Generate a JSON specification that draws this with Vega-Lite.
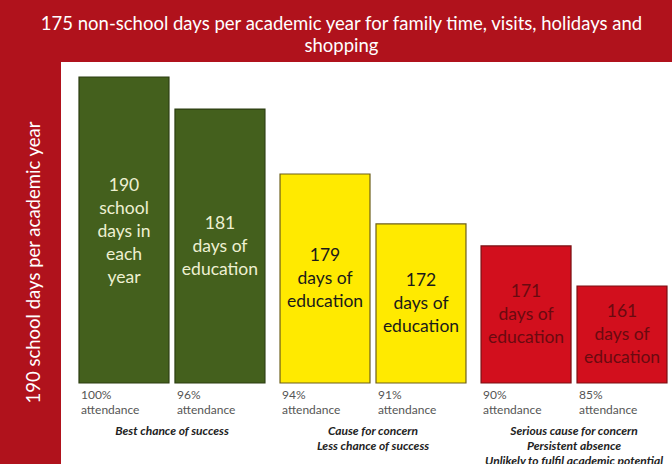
{
  "$schema": "https://vega.github.io/schema/vega-lite/v6.json",
  "width": 611,
  "height": 402,
  "autosize": "none",
  "padding": {"left": 61, "top": 62, "right": 0, "bottom": 0},
  "background": "#b0121c",
  "config": {
    "view": {"fill": "white", "stroke": null},
    "font": "Lato"
  },
  "title": {
    "text": ["175 non-school days per academic year for family time, visits, holidays and", "shopping"],
    "color": "white",
    "fontSize": 18.5,
    "fontWeight": "normal",
    "font": "Lato",
    "anchor": "middle",
    "frame": "group",
    "dx": -25,
    "offset": 7,
    "lineHeight": 22
  },
  "datasets": {
    "bars": [
      {"group": "Best", "bar": "a", "height": 100, "label": "190\nschool\ndays in\neach\nyear", "attend": "100%\nattendance"},
      {"group": "Best", "bar": "b", "height": 89.5, "label": "181\ndays of\neducation", "attend": "96%\nattendance"},
      {"group": "Cause", "bar": "a", "height": 68.3, "label": "179\ndays of\neducation", "attend": "94%\nattendance"},
      {"group": "Cause", "bar": "b", "height": 52.0, "label": "172\ndays of\neducation", "attend": "91%\nattendance"},
      {"group": "Serious", "bar": "a", "height": 44.8, "label": "171\ndays of\neducation", "attend": "90%\nattendance"},
      {"group": "Serious", "bar": "b", "height": 31.7, "label": "161\ndays of\neducation", "attend": "85%\nattendance"}
    ],
    "groups": [
      {"group": "Best", "note": "Best chance of success"},
      {"group": "Cause", "note": "Cause for concern\nLess chance of success"},
      {"group": "Serious", "note": "Serious cause for concern\nPersistent absence\nUnlikely to fulfil academic potential"}
    ]
  },
  "encoding": {
    "x": {
      "field": "group",
      "type": "nominal",
      "sort": ["Best", "Cause", "Serious"],
      "scale": {"range": [18, 606], "paddingInner": 0.075, "paddingOuter": 0},
      "axis": null
    },
    "xOffset": {"field": "bar", "type": "nominal", "sort": ["a", "b"], "scale": {"paddingInner": 0.0625, "paddingOuter": 0}}
  },
  "layer": [
    {
      "data": {"name": "bars"},
      "mark": {"type": "bar", "strokeWidth": 1.2},
      "encoding": {
        "y": {
          "field": "height",
          "type": "quantitative",
          "scale": {"domain": [-26.47, 104.9], "nice": false, "zero": false},
          "axis": {
            "title": "190 school days per academic year",
            "labels": false,
            "ticks": false,
            "domain": false,
            "grid": false,
            "titleColor": "white",
            "titleFont": "Lato",
            "titleFontSize": 18.5,
            "titleFontWeight": "normal",
            "titleAngle": -90,
            "titleX": -28,
            "titleY": 200,
            "titleAlign": "center",
            "titleBaseline": "middle"
          }
        },
        "y2": {"datum": 0},
        "color": {
          "field": "group",
          "type": "nominal",
          "scale": {"domain": ["Best", "Cause", "Serious"], "range": ["#44601d", "#ffea00", "#d20f1d"]},
          "legend": null
        },
        "stroke": {
          "field": "group",
          "type": "nominal",
          "scale": {"domain": ["Best", "Cause", "Serious"], "range": ["#2b3d10", "#6d5f1a", "#7a0f12"]},
          "legend": null
        }
      }
    },
    {
      "data": {"name": "bars"},
      "transform": [{"filter": "datum.group == 'Best' && datum.bar == 'a'"}],
      "mark": {"type": "text", "lineBreak": "\n", "fontSize": 17.5, "lineHeight": 23, "baseline": "middle", "align": "center", "dy": -44, "color": "#eef0d2"},
      "encoding": {
        "y": {
          "field": "height",
          "type": "quantitative",
          "scale": {"domain": [-52.94, 209.8], "nice": false, "zero": false},
          "axis": null
        },
        "text": {"field": "label"}
      }
    },
    {
      "data": {"name": "bars"},
      "transform": [{"filter": "!(datum.group == 'Best' && datum.bar == 'a')"}],
      "mark": {"type": "text", "lineBreak": "\n", "fontSize": 17.5, "lineHeight": 23, "baseline": "middle", "align": "center", "dy": -22},
      "encoding": {
        "y": {
          "field": "height",
          "type": "quantitative",
          "scale": {"domain": [-52.94, 209.8], "nice": false, "zero": false},
          "axis": null
        },
        "text": {"field": "label"},
        "color": {
          "field": "group",
          "type": "nominal",
          "scale": {"domain": ["Best", "Cause", "Serious"], "range": ["#eef0d2", "#1a1a1a", "#6a0a10"]},
          "legend": null
        }
      }
    },
    {
      "data": {"name": "bars"},
      "mark": {"type": "text", "lineBreak": "\n", "fontSize": 12, "lineHeight": 15, "baseline": "top", "align": "left", "dx": -43, "dy": 7, "color": "#555555"},
      "encoding": {
        "y": {"datum": 0, "type": "quantitative", "scale": {"domain": [-26.47, 104.9], "nice": false, "zero": false}, "axis": null},
        "text": {"field": "attend"}
      }
    },
    {
      "data": {"name": "groups"},
      "mark": {"type": "text", "lineBreak": "\n", "fontSize": 12, "lineHeight": 15, "baseline": "top", "align": "center", "dy": 43, "fontStyle": "italic", "fontWeight": "bold", "color": "#222222"},
      "encoding": {
        "xOffset": null,
        "y": {"datum": 0, "type": "quantitative", "scale": {"domain": [-26.47, 104.9], "nice": false, "zero": false}, "axis": null},
        "text": {"field": "note"}
      }
    }
  ],
  "resolve": {"scale": {"y": "independent", "color": "independent"}}
}
